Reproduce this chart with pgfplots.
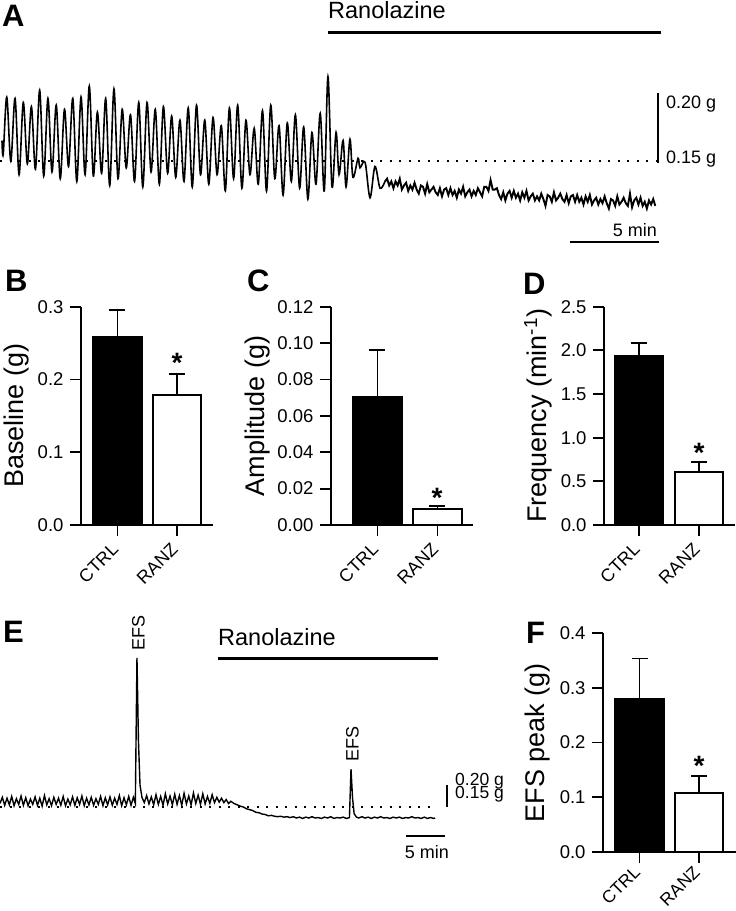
\documentclass[border=0pt]{standalone}
\usepackage{fontspec}
\setmainfont{Liberation Sans}
\usepackage{pgfplots}
\pgfplotsset{compat=1.18}
\newcommand{\fs}[1]{\fontsize{#1}{#1}\selectfont}

\pgfplotsset{
  barpanel/.style={
    scale only axis,
    axis x line=bottom, axis y line=left,
    axis line style={-, line width=1.8pt},
    x axis line style={shorten <=-11pt},
    xtick={1,2}, xticklabels={CTRL,RANZ},
    tick align=outside, major tick length=11pt,
    tick style={line width=1.8pt, black},
    minor tick num=0,
    ymin=0, height=218.3pt,
    tick label style={font=\fs{18.5}},
    y tick label style={xshift=-3pt},
    /pgf/number format/assume math mode=true,
    ylabel style={font=\fs{27}, anchor=center},
    clip=false,
    enlargelimits=false,
  },
  ctrlbar/.style={ybar, bar shift=0pt, fill=black, draw=black, line width=1.8pt,
     error bars/.cd, y dir=plus, y explicit,
     error bar style={line width=1.8pt, black},
     error mark options={rotate=90, mark size=8pt, line width=1.8pt, black}},
  ranzbar/.style={ybar, bar shift=0pt, fill=white, draw=black, line width=1.8pt,
     error bars/.cd, y dir=plus, y explicit,
     error bar style={line width=1.8pt, black},
     error mark options={rotate=90, mark size=8pt, line width=1.8pt, black}},
  trace/.style={scale only axis, hide axis, clip=false, enlargelimits=false},
}

% Panel A trace: time (min), force (g)
\pgfplotstableread{
t g
0.00 0.165
0.07 0.155
0.27 0.197
0.50 0.150
0.74 0.196
0.97 0.140
1.21 0.193
1.44 0.148
1.67 0.190
1.90 0.144
2.14 0.202
2.37 0.139
2.61 0.196
2.84 0.142
3.08 0.191
3.31 0.137
3.55 0.188
3.78 0.146
4.02 0.196
4.25 0.135
4.49 0.197
4.72 0.140
4.96 0.205
5.19 0.139
5.42 0.186
5.66 0.141
5.89 0.196
6.12 0.132
6.36 0.203
6.59 0.137
6.83 0.188
7.06 0.145
7.30 0.184
7.53 0.135
7.77 0.193
8.00 0.131
8.24 0.193
8.47 0.142
8.71 0.188
8.94 0.133
9.17 0.190
9.41 0.141
9.64 0.183
9.87 0.138
10.11 0.180
10.34 0.135
10.58 0.189
10.81 0.131
11.05 0.191
11.28 0.140
11.52 0.180
11.75 0.133
11.99 0.182
12.22 0.140
12.46 0.176
12.69 0.128
12.92 0.189
13.16 0.137
13.39 0.191
13.63 0.130
13.86 0.180
14.09 0.140
14.33 0.174
14.56 0.133
14.80 0.187
15.03 0.128
15.27 0.191
15.50 0.137
15.74 0.176
15.97 0.125
16.21 0.178
16.44 0.135
16.67 0.184
16.91 0.130
17.14 0.175
17.38 0.122
17.61 0.171
17.84 0.133
18.08 0.185
18.31 0.128
18.52 0.212
18.75 0.131
18.98 0.171
19.15 0.140
19.38 0.165
19.55 0.131
19.77 0.166
19.94 0.138
20.23 0.152
20.34 0.145
20.63 0.149
20.91 0.123
21.19 0.146
21.48 0.130
21.76 0.135
}\traceAosc

\pgfplotstableread{
t g
21.76 0.135
21.88 0.137
22.00 0.132
22.12 0.135
22.24 0.130
22.36 0.135
22.48 0.132
22.60 0.137
22.72 0.129
22.84 0.132
22.96 0.134
23.08 0.128
23.20 0.132
23.32 0.129
23.44 0.134
23.56 0.129
23.68 0.126
23.80 0.132
23.92 0.131
24.04 0.126
24.16 0.133
24.28 0.127
24.40 0.129
24.52 0.131
24.64 0.127
24.76 0.125
24.88 0.130
25.00 0.124
25.12 0.129
25.24 0.130
25.36 0.125
25.48 0.130
25.60 0.125
25.72 0.128
25.84 0.123
25.96 0.129
26.08 0.126
26.20 0.131
26.32 0.124
26.44 0.127
26.56 0.129
26.68 0.124
26.80 0.128
26.92 0.125
27.04 0.130
27.16 0.127
27.28 0.124
27.40 0.131
27.52 0.131
27.64 0.128
27.76 0.136
27.88 0.129
28.00 0.129
28.12 0.130
28.24 0.125
28.36 0.122
28.48 0.127
28.60 0.121
28.72 0.126
28.84 0.128
28.96 0.123
29.08 0.128
29.20 0.123
29.32 0.126
29.44 0.121
29.56 0.127
29.68 0.123
29.80 0.128
29.92 0.121
30.04 0.124
30.16 0.126
30.28 0.121
30.40 0.124
30.52 0.121
30.64 0.126
30.76 0.122
30.88 0.117
31.00 0.125
31.12 0.124
31.24 0.120
31.36 0.127
31.48 0.121
31.60 0.123
31.72 0.126
31.84 0.122
31.96 0.120
32.08 0.125
32.20 0.119
32.32 0.124
32.44 0.125
32.56 0.120
32.68 0.125
32.80 0.120
32.92 0.123
33.04 0.118
33.16 0.124
33.28 0.120
33.40 0.125
33.52 0.118
33.64 0.121
33.76 0.123
33.88 0.118
34.00 0.122
34.12 0.119
34.24 0.124
34.36 0.119
34.48 0.115
34.60 0.122
34.72 0.121
34.84 0.117
34.96 0.124
35.08 0.118
35.20 0.120
35.32 0.123
35.44 0.119
35.56 0.117
35.68 0.126
35.80 0.116
35.92 0.121
36.04 0.123
36.16 0.118
36.28 0.123
36.40 0.117
36.52 0.120
36.64 0.115
36.76 0.121
36.88 0.118
37.00 0.122
37.12 0.117
}\traceAnoise

% Panel E trace: time (min), force (g)
\pgfplotstableread{
t g
0.0 0.158
0.3 0.172
0.6 0.154
0.9 0.170
1.2 0.155
1.5 0.174
1.8 0.153
2.1 0.169
2.4 0.156
2.7 0.175
3.0 0.154
3.3 0.171
3.6 0.153
3.9 0.168
4.2 0.156
4.5 0.173
4.8 0.154
5.1 0.170
5.4 0.152
5.7 0.176
6.0 0.155
6.3 0.169
6.6 0.153
6.9 0.172
7.2 0.156
7.5 0.170
7.8 0.154
8.1 0.174
8.4 0.153
8.7 0.168
9.0 0.155
9.3 0.173
9.6 0.154
9.9 0.171
10.2 0.156
10.5 0.175
10.8 0.153
11.1 0.170
11.4 0.155
11.7 0.172
12.0 0.154
12.3 0.169
12.6 0.156
12.9 0.174
13.2 0.153
13.5 0.171
13.8 0.155
14.1 0.173
14.4 0.154
14.7 0.170
15.0 0.156
15.3 0.176
15.6 0.153
15.9 0.171
16.2 0.155
16.5 0.174
16.8 0.154
17.1 0.172
17.35 0.158
17.56 0.489
17.75 0.300
17.95 0.200
18.2 0.172
18.5 0.160
18.8 0.176
19.1 0.157
19.4 0.173
19.7 0.155
20.0 0.178
20.3 0.156
20.6 0.174
20.9 0.154
21.2 0.180
21.5 0.157
21.8 0.175
22.1 0.155
22.4 0.179
22.7 0.156
23.0 0.176
23.3 0.154
23.6 0.181
23.9 0.157
24.2 0.175
24.5 0.155
24.8 0.182
25.1 0.158
25.4 0.177
25.7 0.156
26.0 0.180
26.3 0.157
26.6 0.174
26.9 0.158
27.2 0.178
27.5 0.160
27.8 0.172
28.1 0.161
28.4 0.170
28.7 0.160
29.0 0.167
29.3 0.158
29.6 0.163
30.0 0.158
30.4 0.155
30.8 0.152
31.2 0.150
31.6 0.146
32.0 0.144
32.4 0.142
32.8 0.138
33.2 0.137
33.6 0.134
34.0 0.133
34.4 0.130
34.8 0.131
35.2 0.129
35.6 0.128
36.0 0.129
36.4 0.127
36.8 0.128
37.2 0.126
37.6 0.128
38.0 0.125
38.4 0.127
38.8 0.124
39.2 0.127
39.6 0.125
40.0 0.128
40.4 0.125
40.8 0.126
41.2 0.124
41.6 0.127
42.0 0.125
42.4 0.128
42.8 0.124
43.2 0.126
43.6 0.125
44.0 0.127
44.4 0.124
44.8 0.126
45.0 0.236
45.2 0.170
45.4 0.135
45.7 0.127
46.0 0.125
46.4 0.128
46.8 0.125
47.2 0.127
47.6 0.124
48.0 0.127
48.4 0.125
48.8 0.128
49.2 0.125
49.6 0.126
50.0 0.124
50.4 0.127
50.8 0.125
51.2 0.127
51.6 0.124
52.0 0.126
52.4 0.125
52.8 0.128
53.2 0.125
53.6 0.126
54.0 0.124
54.4 0.127
54.8 0.124
55.2 0.126
55.6 0.124
55.8 0.125
}\traceE

\begin{document}
\begin{tikzpicture}
\path[use as bounding box] (0,0) rectangle (736pt,-911pt);

% ---------- Panel A trace ----------
\begin{axis}[trace, at={(2pt,-229pt)}, anchor=south west,
  width=660pt, height=163.2pt, xmin=0, xmax=37.5, ymin=0.10, ymax=0.22]
\addplot[black, line width=1.6pt, smooth, tension=0.55] table[x=t, y=g] {\traceAosc};
\addplot[black, line width=1.9pt] table[x=t, y=g] {\traceAnoise};
\end{axis}

% ---------- Panel E trace ----------
\begin{axis}[trace, at={(0pt,-829pt)}, anchor=south west,
  width=440.7pt, height=176pt, xmin=0, xmax=56.5, ymin=0.10, ymax=0.50]
\addplot[black, line width=1.4pt] table[x=t, y=g] {\traceE};
\end{axis}

% ---------- Panel B ----------
\begin{axis}[barpanel, at={(81pt,-525pt)}, anchor=south west,
  x tick label style={yshift=-8pt, rotate=45, anchor=east, font=\fs{18}},
  width=132pt, xmin=0.387, xmax=2.605, ymax=0.3,
  ytick={0,0.1,0.2,0.3},
  yticklabel style={/pgf/number format/fixed, /pgf/number format/fixed zerofill, /pgf/number format/precision=1},
  ylabel={Baseline (g)},
  ylabel style={at={(axis description cs:-0.485,0.5)}}]
\addplot[bar width=49pt, ctrlbar] coordinates {(1,0.259) +- (0,0.037)};
\addplot[bar width=48pt, ranzbar] coordinates {(2,0.179) +- (0,0.029)};
\end{axis}

% ---------- Panel C ----------
\begin{axis}[barpanel, at={(331pt,-525pt)}, anchor=south west,
  x tick label style={yshift=-8pt, rotate=45, anchor=east, font=\fs{18}},
  width=142pt, xmin=0.225, xmax=2.592, ymax=0.12,
  ytick={0,0.02,0.04,0.06,0.08,0.10,0.12},
  yticklabel style={/pgf/number format/fixed, /pgf/number format/fixed zerofill, /pgf/number format/precision=2},
  ylabel={Amplitude (g)},
  ylabel style={at={(axis description cs:-0.521,0.5)}}]
\addplot[bar width=49pt, ctrlbar] coordinates {(1,0.0703) +- (0,0.0257)};
\addplot[bar width=49pt, ranzbar] coordinates {(2,0.0086) +- (0,0.0020)};
\end{axis}

% ---------- Panel D ----------
\begin{axis}[barpanel, at={(604pt,-525pt)}, anchor=south west,
  x tick label style={yshift=-8pt, rotate=45, anchor=east, font=\fs{18}},
  width=131pt, xmin=0.417, xmax=2.6, ymax=2.5,
  ytick={0,0.5,1.0,1.5,2.0,2.5},
  yticklabel style={/pgf/number format/fixed, /pgf/number format/fixed zerofill, /pgf/number format/precision=1},
  ylabel={Frequency (min\textsuperscript{-1})},
  ylabel style={at={(axis description cs:-0.504,0.5)}}]
\addplot[bar width=48pt, ctrlbar] coordinates {(1,1.94) +- (0,0.14)};
\addplot[bar width=48pt, ranzbar] coordinates {(2,0.604) +- (0,0.122)};
\end{axis}

% ---------- Panel F ----------
\begin{axis}[barpanel, at={(603pt,-851.7pt)}, anchor=south west,
  x tick label style={yshift=-4pt, rotate=45, anchor=east, font=\fs{17.5}},
  width=133pt, xmin=0.387, xmax=2.62, ymax=0.4, height=218.4pt,
  ytick={0,0.1,0.2,0.3,0.4},
  yticklabel style={/pgf/number format/fixed, /pgf/number format/fixed zerofill, /pgf/number format/precision=1},
  ylabel={EFS peak (g)},
  ylabel style={at={(axis description cs:-0.496,0.5)}}]
\addplot[bar width=49pt, ctrlbar] coordinates {(1,0.280) +- (0,0.074)};
\addplot[bar width=48pt, ranzbar] coordinates {(2,0.107) +- (0,0.032)};
\end{axis}

% ---------- annotations (pixel frame) ----------
\begin{scope}[x=1pt, y=-1pt]
  % panel letters
  \node[font=\bfseries\fs{31}, anchor=base west, inner sep=0] at (2,26) {A};
  \node[font=\bfseries\fs{31}, anchor=base west, inner sep=0] at (5,291) {B};
  \node[font=\bfseries\fs{31}, anchor=base west, inner sep=0] at (247,291) {C};
  \node[font=\bfseries\fs{31}, anchor=base west, inner sep=0] at (523,294) {D};
  \node[font=\bfseries\fs{31}, anchor=base west, inner sep=0] at (3,642) {E};
  \node[font=\bfseries\fs{31}, anchor=base west, inner sep=0] at (526,643) {F};

  % Panel A annotations
  \node[font=\fs{23.5}, anchor=base west, inner sep=0] at (328,18.5) {Ranolazine};
  \draw[line width=3pt] (328,32) -- (661,32);
  \draw[line width=2.2pt, dash pattern=on 2.2pt off 7.3pt] (0,161) -- (657,161);
  \draw[line width=2.5pt] (658,93) -- (658,162.5);
  \node[font=\fs{18}, anchor=base west, inner sep=0] at (666,108.3) {0.20 g};
  \node[font=\fs{18}, anchor=base west, inner sep=0] at (666,163.5) {0.15 g};
  \node[font=\fs{18}, anchor=base east, inner sep=0] at (657,236) {5 min};
  \draw[line width=2.5pt] (570,242) -- (659,242);

  % Panel E annotations
  \node[font=\fs{18}, rotate=90, inner sep=0] at (138.5,632.5) {EFS};
  \node[font=\fs{18}, rotate=90, inner sep=0] at (352.5,744) {EFS};
  \node[font=\fs{23.5}, anchor=base west, inner sep=0] at (218,645.5) {Ranolazine};
  \draw[line width=3pt] (218,658) -- (438,658);
  \draw[line width=2.2pt, dash pattern=on 2.2pt off 7.3pt] (0,807) -- (435,807);
  \draw[line width=2.5pt] (447,785) -- (447,807);
  \node[font=\fs{17.5}, anchor=base west, inner sep=0] at (455,785.5) {0.20 g};
  \node[font=\fs{17.5}, anchor=base west, inner sep=0] at (455,798.3) {0.15 g};
  \draw[line width=2.5pt] (406,836) -- (445,836);
  \node[font=\fs{18}, anchor=base east, inner sep=0] at (449,858) {5 min};

  % significance stars
  \node[font=\bfseries\fs{28}, anchor=north, inner sep=0] at (177,353) {*};
  \node[font=\bfseries\fs{28}, anchor=north, inner sep=0] at (437,488) {*};
  \node[font=\bfseries\fs{28}, anchor=north, inner sep=0] at (699,443) {*};
  \node[font=\bfseries\fs{28}, anchor=north, inner sep=0] at (699,756) {*};
\end{scope}
\end{tikzpicture}
\end{document}
